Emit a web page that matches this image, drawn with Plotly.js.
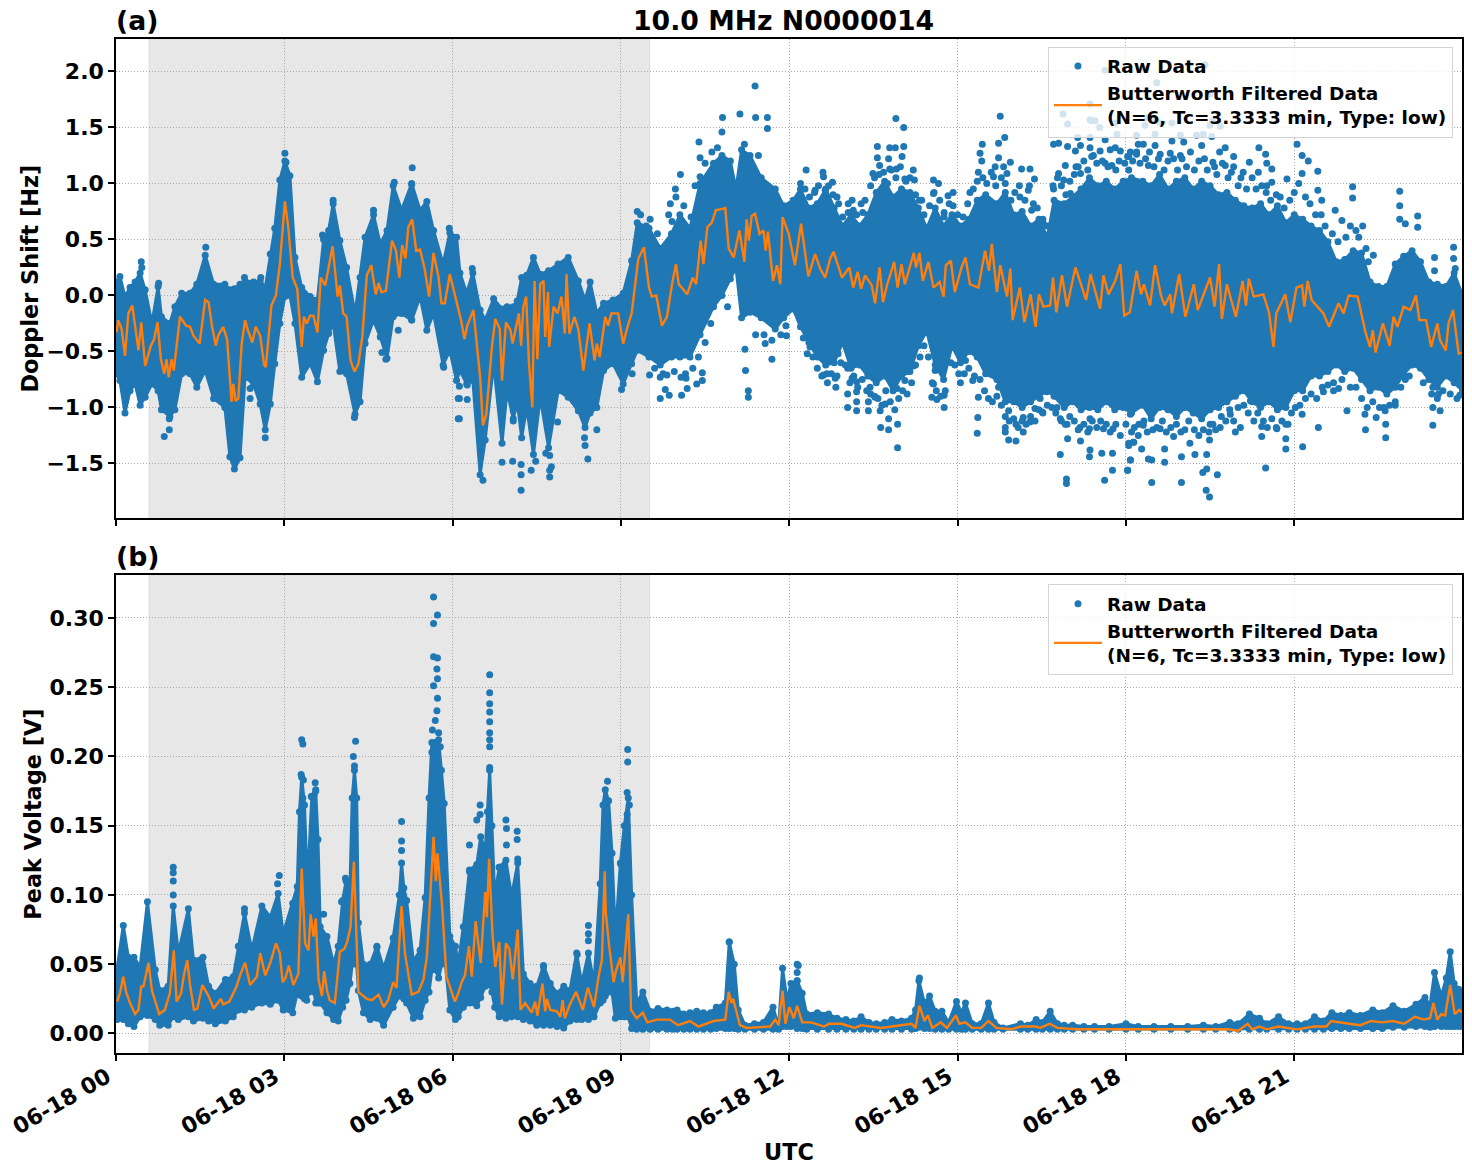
<!DOCTYPE html>
<html><head><meta charset="utf-8">
<script src="https://cdn.plot.ly/plotly-3.0.1.min.js"></script>
<style>html,body{margin:0;padding:0;background:#fff}</style></head>
<body><div id="chart" style="width:1472px;height:1172px"></div>
<script>
const titleText = "10.0 MHz N0000014";
const legendRaw = "Raw Data";
const legendFilt = "Butterworth Filtered Data<br>(N=6, Tc=3.3333 min, Type: low)";
const shadeHours = [0.588, 9.51];
const tickHours = [0,3,6,9,12,15,18,21];

// (a) dense core of the raw doppler points: time [h], upper edge, lower edge (10 per line)
const bandAT = [
0,.07,.16,.25,.34,.43,.52,.64,.75,.81,
.96,1.05,1.17,1.32,1.44,1.59,1.74,1.94,2.03,2.11,
2.21,2.30,2.45,2.57,2.66,2.75,2.83,2.92,3.01,3.10,
3.19,3.31,3.46,3.59,3.7,3.79,3.87,3.99,4.11,4.26,
4.35,4.44,4.59,4.71,4.83,4.94,5.09,5.27,5.42,5.54,
5.66,5.83,5.95,6.07,6.13,6.25,6.36,6.49,6.58,6.73,
6.88,6.97,7.08,7.15,7.23,7.32,7.44,7.56,7.71,7.88,
8.06,8.24,8.36,8.45,8.57,8.69,8.86,9.04,9.19,9.29,
9.5,9.7,9.9,10.05,10.23,10.41,10.65,10.8,10.95,11.05,
11.15,11.3,11.5,11.75,11.9,12.07,12.2,12.35,12.5,12.65,
12.8,12.95,13.1,13.25,13.4,13.55,13.7,13.85,14.0,14.15,
14.3,14.45,14.6,14.75,14.9,15.05,15.2,15.35,15.5,15.7,
15.85,16.0,16.15,16.3,16.45,16.6,16.72,16.9,17.05,17.2,
17.35,17.5,17.65,17.8,17.95,18.1,18.3,18.45,18.6,18.75,
18.9,19.05,19.2,19.35,19.5,19.65,19.8,19.95,20.1,20.25,
20.4,20.55,20.7,20.85,21.0,21.15,21.3,21.45,21.6,21.75,
21.9,22.05,22.2,22.35,22.5,22.65,22.8,22.95,23.1,23.25,
23.4,23.55,23.7,23.85,24];
const bandAHi = [
.12,.17,-.01,.07,.12,.2,.05,-.25,.08,-.19,
-.25,-.10,.02,.02,.1,.36,.10,.1,.05,.06,
.1,.13,.12,.13,.07,.37,.6,1.03,1.2,1.07,
.34,.07,-.01,-.04,.5,.58,.82,.49,.25,-.16,
.16,.52,.72,.46,.58,.98,.76,1.0,.76,.84,
.58,.28,.56,.52,.2,.02,.2,-.13,-.22,-.03,
-.12,-.1,-.10,-.05,.16,.18,.34,.19,.22,.28,
.34,.13,-.04,.12,-.16,-.07,-.04,.02,.31,.65,
.6,.42,.55,.72,.6,1.0,1.18,1.25,1.2,.95,
1.3,1.25,1.05,.95,.8,.85,.95,.78,.82,.95,
.78,.62,.72,.62,.72,.92,1.02,.88,.95,.92,
.78,.6,.78,.62,.72,.62,.68,.85,.9,.82,
.92,.72,.75,.62,.68,.52,.85,.82,.88,.95,
1.05,.98,1.02,.95,1.02,1.05,1.02,.98,1.08,.95,
1.02,1.05,.95,1.02,.98,.9,.92,.85,.8,.78,
.82,.72,.8,.65,.72,.68,.62,.58,.48,.3,
.32,.4,.38,.12,.08,.08,.28,.35,.4,.3,
.12,.1,.08,.2,0];
const bandALo = [
-.7,-.76,-1.05,-.85,-.79,-.98,-.91,-.79,-.85,-1.02,
-1.08,-1.02,-.70,-.70,-.82,-.67,-.92,-1.0,-1.44,-1.55,
-1.45,-.73,-.79,-.97,-1.2,-.97,-.61,-.25,-.01,0,
-.25,-.73,-.61,-.77,-.49,-.34,-.25,-.68,-.70,-1.06,
-.95,-.43,-.22,-.37,-.56,-.19,-.16,-.22,-.01,-.31,
-.16,-.62,-.49,-.76,-.67,-.79,-.76,-1.6,-1.29,-.61,
-1.32,-.85,-1.1,-.95,-1.27,-1.0,-1.42,-.91,-1.36,-.85,
-.91,-1.03,-1.18,-1.05,-1.0,-.67,-.61,-.79,-.61,-.49,
-.55,-.62,-.55,-.55,-.55,-.35,-.1,0,.15,.25,
-.2,-.15,-.2,-.3,-.2,-.12,-.28,-.42,-.55,-.62,
-.6,-.42,-.65,-.62,-.72,-.78,-.72,-.85,-.72,-.68,
-.45,-.32,-.62,-.75,-.45,-.6,-.5,-.55,-.7,-.75,
-.95,-.95,-1.0,-.95,-.9,-.85,-.9,-1.0,-.95,-1.02,
-1.0,-1.02,-.95,-1.02,-1.0,-1.05,-.98,-1.1,-1.0,-1.02,
-1.08,-1.0,-1.05,-1.1,-1.02,-1.0,-.95,-.9,-.85,-.95,
-1.0,-.95,-1.02,-1.0,-.85,-.85,-.72,-.72,-.68,-.62,
-.68,-.65,-.75,-.85,-.82,-.88,-.82,-.7,-.62,-.65,
-.75,-.82,-.72,-.78,-.85];

// (a) points that stand clear of the dense core
const rawAT = [12.30,12.46,12.61,12.77,12.64,12.85,13.05,13.14,13.31,13.49,13.57,13.57,13.61,13.77,13.79,13.89,13.90,14.04,14.04,14.01,13.91,13.79,14.21,14.23,14.06,14.36,14.57,14.57,14.66,14.83,14.92,14.76,15.22,15.44,15.40,15.43,15.37,15.73,15.84,15.76,15.73,15.67,15.82,15.94,15.64,15.88,16.14,16.29,16.37,16.26,16.11,16.32,16.53,16.71,16.80,16.96,16.92,16.80,16.71,16.89,17.01,17.11,17.14,17.19,17.10,17.36,17.36,17.39,17.39,17.19,17.54,17.63,17.63,17.84,17.81,17.9,17.75,18.05,18.05,18.19,18.22,18.19,
17.63,18.55,18.3,19.41,19.5,17.36,16.88,16.96,17.36,17.45,17.53,17.81,18.38,18.52,18.34,18.61,18.82,19.54,19.5,19.68,21.14,
18.31,18.19,18.03,18.52,18.52,18.61,18.40,18.82,18.97,19.03,18.79,18.97,19.26,19.53,19.38,19.35,19.77,19.67,19.55,19.92,19.77,19.92,20.20,20.37,20.49,20.51,20.60,20.36,20.09,20.87,20.60,20.51,21.05,21.14,21.25,21.14,21.42,21.42,21.49,21.73,22.04,22.04,21.85,22.22,22.88,22.88,22.88,23.2,23.2,22.98,22.41,22.32,23.5,23.5,23.84,23.84,23.87,23.66,
12.37,12.61,12.67,12.82,12.83,12.76,12.87,13.04,13.04,13.04,13.12,13.2,13.2,13.2,13.2,13.41,13.41,13.44,13.53,13.62,13.63,13.77,13.77,13.93,13.93,13.71,13.92,14.06,14.12,14.21,14.27,14.54,14.63,14.76,14.76,14.57,14.60,15.02,15.14,15.02,15.27,15.37,15.36,15.35,15.58,15.73,15.85,15.85,15.91,16.04,16.04,15.91,16.17,16.17,16.29,16.38,16.51,16.47,16.59,16.77,16.83,16.83,16.95,16.96,16.94,16.94,17.18,17.19,17.36,17.35,17.36,17.35,17.57,17.76,17.76,17.62,17.6,17.77,17.39,18.03,18.08,18.05,18.14,18.23,18.08,
18.05,18.13,18.28,18.08,18.03,18.40,18.46,18.69,18.69,18.46,18.99,18.99,19.23,19.44,19.37,19.44,19.63,19.43,19.49,19.49,19.50,19.14,18.85,18.61,18.31,19.68,20.04,19.95,19.86,20.22,20.42,20.42,20.49,20.69,20.85,20.85,20.89,21.15,21.14,21.43,21.52,21.70,21.94,21.79,22.26,22.27,22.46,22.62,22.63,22.63,22.80,22.98,23.47,23.47,23.47,23.60,23.57,23.95,
11.39,11.12,11.4,11.61,11.61,10.81,10.8,10.39,10.41,10.06,9.97,9.88,9.91,9.29,9.52,10.32,10.41,9.70,9.79,9.86,10.08,10.18,10.35,10.45,10.45,10.07,10.16,9.51,9.70,9.82,11.27,11.27,11.22,11.21,11.69,11.57,11.69,11.95,11.94,9.01,9.2,
6.54,6.88,7.07,7.22,7.22,7.22,7.40,7.48,7.73,7.73,7.76,7.66,7.73,8.41,8.36,8.35,8.57,7.87,6.12,6.12,6.26,6.26,6.12,7.07,7.08,6.35,7.08,
.86,.95,2.66,.95,5.28,5.27,4.96,4.59,3.68,1.60,.45,.46,.76,2.29,2.58,5.94,5.84,6.10,6.10,6.04,4.81,4.74,5.03,5.27,4.25,2.39,2.39,3.01,3.03,3.87];
const rawAV = [1.12,.94,1.06,1.01,.94,.88,.74,.76,.74,1.09,1.33,1.23,1.16,1.22,1.32,1.32,1.58,1.50,1.33,1.24,1.13,1.13,1.12,1.03,1.04,.85,1.03,.91,1.0,.89,.92,.74,.92,1.35,1.27,1.2,1.1,1.36,1.41,1.60,1.23,1.15,1.15,1.19,1.06,1.09,1.13,1.13,1.04,.94,.88,.76,.64,1.35,1.36,1.33,1.16,1.09,.95,1.03,.91,1.15,1.41,1.34,1.29,1.41,1.32,1.56,1.24,1.09,1.29,1.39,1.18,1.44,1.32,1.29,1.16,1.24,1.12,1.43,1.35,1.26,
2.01,1.90,2.03,2.06,1.80,1.71,1.62,1.53,1.57,1.56,1.5,1.54,1.59,1.57,1.52,1.54,1.54,1.56,1.52,1.51,1.56,
1.35,1.28,1.24,1.44,1.34,1.26,1.16,1.38,1.43,1.37,1.27,1.25,1.43,1.42,1.44,1.34,1.32,1.28,1.19,1.24,1.16,1.15,1.19,1.32,1.26,1.18,1.13,1.10,1.10,1.04,1.01,.98,1.35,1.25,1.2,1.09,1.11,.94,.85,.76,.97,.87,.67,.62,.93,.80,.68,.71,.61,.64,.36,.30,.34,.22,.43,.33,.24,.04,
-.46,-.71,-.70,-.74,-.82,-.57,-.52,-.65,-.88,-1.0,-.74,-.77,-.86,-.95,-1.03,-.95,-1.03,-.82,-.91,-1.03,-1.18,-1.10,-1.2,-1.15,-1.36,-.97,-.83,-.76,-.68,-.63,-.40,-.91,-.93,-.89,-1.0,-.79,-.67,-.70,-.58,-.52,-.76,-.91,-1.09,-1.23,-.70,-.82,-1.18,-1.22,-1.29,-1.30,-1.15,-1.03,-1.09,-1.22,-1.13,-1.01,-1.04,-.92,-.86,-1.0,-1.1,-1.42,-1.15,-1.28,-1.64,-1.68,-1.18,-1.30,-1.10,-1.19,-1.38,-1.44,-1.41,-1.41,-1.56,-1.65,-1.19,-1.19,-.98,-1.56,-1.47,-1.32,-1.31,-1.15,-1.06,
-1.34,-1.31,-1.37,-1.47,-1.56,-1.46,-1.47,-1.37,-1.49,-1.67,-1.44,-1.67,-1.42,-1.42,-1.58,-1.55,-1.60,-1.74,-1.80,-1.29,-1.15,-1.32,-1.26,-1.19,-1.16,-1.18,-1.18,-1.22,-1.06,-.94,-1.17,-1.26,-1.54,-1.19,-1.28,-1.37,-1.15,-1.35,-1.06,-1.18,-.86,-.85,-1.03,-.83,-1.06,-1.2,-1.09,-1.03,-1.15,-1.27,-.98,-.75,-.82,-1.0,-1.16,-1.03,-.88,-.89,
1.87,1.62,1.59,1.59,1.49,1.59,1.46,1.37,1.23,1.08,.95,.82,.66,.75,.68,.98,1.06,-.92,-.84,-.89,-.89,-.83,-.79,-.76,-.69,-.73,-.74,-.71,-.73,-.71,-.85,-.91,-.67,-.48,-.57,-.43,-.40,-.36,-.27,-.84,-.70,
-1.65,-1.49,-1.48,-1.51,-1.60,-1.74,-1.56,-1.48,-1.62,-1.56,-1.53,-1.41,-1.43,-1.46,-1.34,-1.27,-1.2,-1.13,-1.10,-.92,-.93,-.80,-.81,-.84,-1.03,.24,-1.12,
-1.26,-1.2,-1.27,-1.10,1.14,.99,1.01,.76,.54,.43,.30,.25,.11,.16,.16,.60,-.64,-1.10,-.92,-.48,-.57,-.51,-.31,-.22,-1.09,-.92,-.83,1.27,1.19,.85];
// (a) speckled rim just outside the core (20 per line)
const rimAT = [
12.2,12.28,12.36,12.45,12.52,12.6,12.7,12.78,12.88,12.95,13.05,13.12,13.2,13.28,13.35,13.45,13.52,13.6,13.68,13.75,
13.82,13.9,13.98,14.08,14.15,14.25,14.32,14.4,14.5,14.58,14.68,14.76,14.85,14.92,15.0,15.1,15.18,15.28,15.35,15.45,
15.52,15.6,15.68,15.78,15.85,15.95,16.02,16.1,16.2,16.28,16.35,16.42,16.52,16.6,16.7,16.78,16.85,16.93,17.0,17.08,
17.15,17.25,17.32,17.42,17.48,17.58,17.68,17.72,17.82,17.88,17.98,18.08,18.12,18.25,18.35,18.42,18.5,18.58,18.68,18.75,
18.85,18.92,19.0,19.08,19.15,19.22,19.3,19.4,19.45,19.58,19.62,19.72,19.82,19.88,20.0,20.05,20.15,20.25,20.32,20.42,
20.5,20.58,20.68,20.75,20.82,20.92,21.0,21.08,21.2,21.28,21.38,21.48,21.55,21.68,21.78,21.92,22.0,22.1,22.15,22.28,
12.25,12.32,12.42,12.5,12.58,12.68,12.75,12.85,12.92,13.0,13.08,13.15,13.22,13.3,13.38,13.45,13.52,13.58,13.65,13.72,
13.8,13.88,13.95,14.02,14.1,14.18,14.25,14.33,14.4,14.48,14.55,14.62,14.7,14.78,14.88,14.95,15.05,15.12,15.2,15.3,
15.4,15.48,15.55,15.62,15.7,15.78,15.85,15.92,16.0,16.08,16.15,16.22,16.3,16.38,16.45,16.52,16.6,16.68,16.75,16.85,
16.92,17.0,17.08,17.15,17.25,17.32,17.4,17.48,17.55,17.65,17.72,17.82,17.9,18.0,18.1,18.15,18.22,18.32,18.38,18.48,
18.55,18.65,18.72,18.8,18.9,18.98,19.05,19.12,19.22,19.3,19.38,19.48,19.55,19.6,19.7,19.78,19.85,19.92,20.0,20.1,
20.18,20.28,20.35,20.45,20.52,20.6,20.68,20.78,20.85,20.95,21.02,21.1,21.2,21.3,21.4,21.5,21.6,21.7,21.85,22.0,
22.1,22.2,22.3,22.4,22.52,22.6,22.7,22.8,22.9,23.05,23.3,23.45,23.55,23.65,23.78,23.9,9.6,9.75,9.95,10.15,
10.28,10.38,10.5,10.6,10.9,11.4,11.55,11.85,9.35,9.45,9.65,9.85,9.98,10.12,10.25,10.5,10.62,10.72,11.2,11.45];
const rimAV = [
1.0,.95,.88,.92,.98,1.1,.98,.9,.82,.7,.82,.85,.72,.82,.85,.98,1.05,1.08,1.1,1.0,
1.12,1.05,1.15,1.02,1.05,.9,.85,.72,.8,.92,.85,.7,.82,.8,.72,.7,.82,.95,1.02,1.05,
1.0,1.1,.98,1.05,1.0,.85,.92,.98,.85,.98,.82,.78,.68,.62,.98,1.05,.98,.9,1.02,1.08,
1.15,1.2,1.12,1.25,1.18,1.2,1.15,1.3,1.12,1.2,1.18,1.28,1.2,1.18,1.22,1.28,1.15,1.22,1.12,1.2,
1.22,1.12,1.22,1.15,1.28,1.12,1.2,1.22,1.12,1.15,1.08,1.18,1.05,1.1,.98,1.05,.95,1.05,.95,.98,
.92,.85,.9,.88,.78,.85,.92,1.0,.88,.82,.72,.72,.62,.55,.48,.52,.62,.58,.52,.42,
-.38,-.52,-.55,-.65,-.72,-.78,-.7,-.72,-.6,-.62,-.78,-.72,-.82,-.75,-.85,-.88,-.9,-.92,-.98,-.85,
-.95,-1.02,-.92,-.85,-.88,-.78,-.62,-.55,-.45,-.55,-.78,-.85,-.9,-.85,-.6,-.62,-.78,-.7,-.65,-.72,
-.75,-.85,-.92,-.95,-.9,-.98,-1.08,-1.12,-1.1,-1.18,-1.12,-1.15,-1.08,-1.12,-1.02,-1.05,-.98,-1.0,-1.05,-1.12,
-1.15,-1.08,-1.12,-1.2,-1.15,-1.22,-1.12,-1.18,-1.12,-1.15,-1.22,-1.15,-1.25,-1.15,-1.22,-1.18,-1.25,-1.12,-1.22,-1.2,
-1.18,-1.12,-1.22,-1.18,-1.15,-1.22,-1.2,-1.12,-1.2,-1.25,-1.2,-1.22,-1.15,-1.2,-1.08,-1.12,-1.02,-1.12,-1.0,-.98,
-1.05,-1.12,-1.05,-1.12,-1.18,-1.1,-1.18,-1.12,-1.15,-1.05,-1.0,-.98,-.92,-.88,-.92,-.82,-.8,-.78,-.75,-.82,
-.82,-.92,-1.0,-.95,-1.0,-1.0,-.98,-.95,-.82,-.72,-.78,-.88,-.92,-.85,-.88,-.92,-.65,-.7,-.68,-.7,
-.65,-.55,-.42,-.25,-.1,-.35,-.35,-.35,.72,.62,.55,.72,.88,.8,.7,1.18,1.28,1.32,1.35,1.25];

// (a) Butterworth filtered doppler
const filtAT = [.01,.04,.10,.16,.22,.29,.34,.40,.45,.52,.62,.68,.74,.80,.86,.90,.94,.99,1.03,1.14,1.25,1.32,1.38,1.49,1.59,1.65,1.71,1.78,1.82,1.91,1.98,2.06,2.09,2.13,2.18,2.24,2.30,2.35,2.43,2.49,2.57,2.64,2.67,2.73,2.77,2.85,2.92,3.01,3.07,3.15,3.23,3.31,3.35,3.40,3.46,3.52,3.59,3.65,3.73,3.86,3.95,3.99,4.05,4.11,4.18,4.25,4.32,4.39,4.47,4.55,4.63,4.68,4.73,4.81,4.92,4.99,5.05,5.10,5.16,5.21,5.28,5.35,5.42,5.50,5.58,5.66,5.75,5.80,5.86,5.95,6.04,6.15,6.21,6.26,6.37,6.43,6.49,6.54,6.60,6.70,6.76,6.84,6.88,6.95,7.03,7.07,7.18,7.22,7.26,7.31,7.36,7.42,7.46,7.51,7.56,7.62,7.65,7.70,7.72,7.80,7.87,7.94,8.0,8.03,8.08,8.17,8.24,8.33,8.44,8.53,8.57,8.62,8.72,8.77,8.83,8.95,9.04,9.10,9.19,9.31,9.41,9.50,9.55,9.63,9.73,9.82,9.91,9.98,10.03,10.10,10.18,10.28,10.34,10.42,10.47,10.54,10.62,10.69,10.77,10.86,10.92,11.01,11.11,11.20,11.24,11.28,11.33,11.39,11.47,11.54,11.58,11.62,11.71,11.78,11.84,11.88,11.99,12.10,12.21,12.34,12.46,12.55,12.64,12.73,12.79,12.94,13.07,13.14,13.22,13.28,13.35,13.47,13.53,13.61,13.67,13.74,13.87,13.93,14.0,14.06,14.22,14.26,14.32,14.38,14.48,14.57,14.68,14.75,14.79,14.88,14.95,15.07,15.14,15.22,15.37,15.49,15.56,15.61,15.70,15.76,15.88,15.94,15.98,16.11,16.19,16.30,16.39,16.45,16.53,16.65,16.70,16.76,16.86,16.95,17.10,17.21,17.29,17.37,17.47,17.54,17.60,17.69,17.81,17.90,17.97,18.07,18.19,18.27,18.32,18.43,18.52,18.62,18.69,18.79,18.82,18.95,19.06,19.21,19.28,19.43,19.50,19.58,19.66,19.71,19.80,19.96,20.08,20.14,20.19,20.28,20.45,20.55,20.63,20.68,20.84,20.93,21.04,21.14,21.18,21.24,21.31,21.52,21.62,21.79,21.88,21.97,22.13,22.27,22.35,22.40,22.45,22.58,22.70,22.77,22.84,22.95,23.07,23.17,23.23,23.35,23.44,23.55,23.60,23.70,23.75,23.83,23.93,23.99];
const filtAV = [-.33,-.22,-.30,-.54,-.16,-.09,-.27,-.49,-.24,-.63,-.45,-.39,-.24,-.57,-.70,-.57,-.73,-.57,-.67,-.19,-.27,-.28,-.36,-.43,-.04,-.06,-.27,-.45,-.36,-.28,-.39,-.95,-.79,-.94,-.92,-.43,-.22,-.31,-.42,-.28,-.36,-.62,-.64,-.34,-.09,0,.28,.84,.61,.16,.06,-.46,-.19,-.25,-.18,-.18,-.33,.16,.09,.44,-.01,.09,-.16,-.19,-.58,-.68,-.61,-.37,.18,.27,.01,.11,.03,.04,.49,.40,.16,.45,.33,.61,.68,.40,.41,.24,-.01,.38,.16,-.07,-.07,.19,.01,-.22,-.39,-.27,-.13,-.43,-.73,-1.16,-1.06,-.46,-.21,-.30,-.76,-.24,-.31,-.43,-.16,-.45,-.10,-.01,-.60,-1.0,.13,-.57,.10,.13,-.37,.03,-.46,-.10,-.16,-.01,-.34,.19,-.34,-.19,-.30,-.67,-.25,-.58,-.43,-.55,-.19,-.27,-.16,-.16,-.43,-.31,-.16,.33,.43,.07,-.01,0,-.27,-.19,.10,.28,.10,.06,.01,.16,.10,.49,.28,.61,.65,.76,.77,.78,.42,.34,.58,.30,.68,.49,.71,.73,.55,.58,.40,.57,.13,.27,.10,.70,.55,.27,.64,.17,.37,.24,.16,.33,.39,.16,.25,.07,.21,.06,.18,.09,-.07,.25,-.06,.09,.30,.07,.28,.10,.38,.25,.38,.13,.30,.07,.12,-.01,.27,.31,.03,.25,.34,.10,.07,.40,.22,.46,.03,.27,-.01,.24,-.22,.07,-.24,.01,-.28,.01,-.10,-.09,.16,-.15,.18,-.10,.25,.07,-.04,.19,.01,-.12,.18,.01,.13,.28,-.18,-.15,.22,.01,.10,-.09,.27,.01,-.09,.01,-.16,.19,-.19,.10,-.13,.07,.16,-.10,.28,-.21,.10,-.19,.13,-.09,.15,-.01,.01,-.15,-.46,-.16,.01,-.24,.07,.09,-.10,.13,-.04,-.16,-.28,-.07,-.16,0,-.01,-.33,-.46,-.31,-.51,-.25,-.45,-.19,-.28,-.10,-.13,0,-.22,-.22,-.46,-.25,-.40,-.49,-.25,-.13,-.52,-.51];

// (b) dense core of the raw voltage points; same line layout in the three arrays
const bandBT = [
0,.02,.13,.22,.32,.43,.56,.70,.78,.93,
1.02,1.11,1.29,1.38,1.55,1.65,1.77,1.95,2.09,2.18,
2.29,2.42,2.60,2.75,2.89,2.98,3.15,3.23,3.27,3.31,3.36,3.40,
3.44,3.49,3.53,3.56,3.60,3.64,3.76,3.88,3.96,4.04,4.10,4.17,4.21,4.25,
4.29,4.32,4.41,4.53,4.65,4.77,4.94,5.05,5.09,5.13,5.18,5.30,5.42,
5.51,5.58,5.63,5.69,5.75,5.80,5.85,5.95,6.05,6.10,6.19,6.30,6.43,
6.50,6.58,6.62,6.66,6.70,6.75,6.83,6.95,7.05,7.16,7.26,7.38,
7.50,7.62,7.74,7.86,7.98,8.09,8.21,8.30,8.42,8.52,
8.63,8.68,8.72,8.78,8.84,8.90,8.99,9.06,9.13,9.19,9.28,9.39,
9.52,9.66,9.82,9.92,10.0,10.12,10.23,10.35,10.47,10.6,10.7,10.86,10.93,11.02,11.09,
11.21,11.38,11.54,11.71,11.81,11.88,11.96,12.03,12.14,12.23,12.31,
12.5,12.7,12.85,13.01,13.15,13.28,13.42,13.55,13.7,13.83,14.0,14.18,14.25,14.31,14.41,14.5,
14.6,14.72,14.84,14.98,15.07,15.14,15.26,15.42,15.55,15.65,
15.81,16.12,16.25,16.4,16.51,16.65,16.78,16.9,17.05,17.25,17.44,17.7,18,18.22,
18.5,18.8,19.1,19.38,19.6,19.85,20.0,20.2,20.38,20.51,20.72,20.9,21.05,21.2,
21.36,21.52,21.67,21.83,21.98,22.18,22.4,22.57,22.76,22.96,
23.17,23.33,23.42,23.5,23.62,23.71,23.78,23.85,23.93,24];
const bandBHi = [
.044,.047,.078,.055,.055,.048,.095,.046,.031,.034,
.092,.058,.09,.053,.055,.034,.029,.039,.041,.063,
.087,.06,.092,.084,.101,.072,.094,.106,.16,.185,.165,.118,
.13,.171,.172,.175,.14,.077,.07,.05,.063,.096,.11,.106,.17,.19,
.17,.08,.05,.05,.063,.047,.069,.1,.123,.105,.096,.052,.06,
.098,.17,.21,.21,.212,.19,.166,.07,.063,.05,.077,.118,.122,
.142,.132,.16,.19,.15,.099,.12,.125,.099,.123,.043,.036,
.034,.049,.036,.029,.034,.031,.058,.036,.058,.036,
.108,.165,.176,.168,.13,.07,.123,.15,.17,.10,.022,.03,
.016,.018,.017,.016,.017,.014,.015,.016,.015,.015,.019,.022,.066,.05,.017,
.006,.007,.008,.019,.005,.047,.024,.036,.038,.029,.014,
.015,.014,.011,.010,.009,.012,.008,.007,.008,.01,.009,.011,.017,.038,.022,.027,
.016,.016,.008,.023,.015,.022,.007,.007,.022,.008,
.004,.007,.006,.01,.008,.016,.007,.006,.006,.005,.005,.005,.007,.005,
.005,.005,.005,.006,.005,.008,.007,.014,.011,.007,.012,.007,.007,.007,
.012,.009,.015,.013,.015,.013,.017,.015,.02,.016,
.021,.026,.02,.044,.027,.04,.059,.036,.032,.029];
const bandBLo = [
.011,.010,.010,.007,.005,.012,.013,.010,.006,.006,
.012,.010,.012,.009,.011,.009,.007,.009,.012,.017,
.017,.019,.022,.021,.024,.017,.015,.029,.028,.027,.025,.024,
.03,.036,.03,.022,.022,.022,.015,.010,.009,.019,.024,.036,.05,.058,
.05,.031,.015,.010,.011,.006,.019,.027,.027,.025,.022,.011,.012,
.024,.03,.046,.046,.04,.05,.058,.017,.010,.012,.019,.022,.02,
.026,.034,.035,.036,.03,.019,.012,.011,.012,.012,.010,.009,
.006,.006,.006,.005,.004,.009,.010,.010,.010,.012,
.022,.024,.027,.03,.03,.011,.012,.012,.012,.0035,.003,.003,
.003,.003,.003,.003,.003,.003,.003,.003,.003,.003,.0035,.0035,.0035,.0035,.003,
.003,.003,.003,.003,.003,.005,.005,.005,.0035,.0035,.003,
.003,.003,.003,.003,.003,.003,.003,.003,.003,.003,.003,.003,.0035,.0045,.0035,.0035,
.003,.003,.003,.003,.003,.003,.003,.003,.003,.003,
.003,.003,.003,.003,.003,.003,.003,.003,.003,.003,.003,.003,.003,.003,
.003,.003,.003,.003,.003,.003,.003,.003,.003,.003,.003,.003,.003,.003,
.003,.003,.0035,.0035,.0035,.0035,.0035,.0035,.0045,.0045,
.005,.005,.0045,.005,.005,.005,.005,.005,.005,.005];

// (b) points that stand clear of the dense core
const rawBT = [1.02,1.02,1.02,1.02,2.91,2.88,3.31,3.33,3.30,3.34,3.55,3.56,3.48,3.33,4.27,4.23,4.25,5.09,5.09,5.09,4.09,4.02,5.66,5.73,5.66,5.66,5.73,5.72,5.73,5.66,5.73,5.72,5.69,5.64,5.75,5.78,5.63,4.65,3.70,2.29,
6.66,6.66,6.66,6.66,6.66,6.66,6.66,6.66,6.66,6.49,6.49,6.43,6.30,6.30,6.83,6.95,6.96,6.96,7.15,7.15,7.16,8.42,8.42,8.42,8.22,7.62,8.76,9.12,9.12,9.11,9.15,9.11,9.11,9.0,10.93,12.16,12.14,12.14,12.14,14.32];
const rawBV = [.12,.116,.11,.10,.114,.108,.212,.209,.187,.183,.181,.176,.171,.17,.211,.20,.193,.153,.139,.132,.112,.095,.315,.302,.296,.272,.271,.263,.256,.251,.242,.233,.226,.219,.217,.207,.203,.062,.086,.09,
.259,.246,.238,.232,.225,.217,.212,.207,.192,.165,.158,.154,.136,.117,.12,.154,.148,.136,.146,.14,.126,.078,.072,.067,.057,.048,.182,.205,.196,.174,.165,.158,.15,.122,.066,.049,.05,.044,.038,.04];

// (b) Butterworth filtered voltage
const filtBT = [.02,.07,.13,.18,.25,.34,.40,.45,.49,.58,.64,.77,.87,.96,1.03,1.08,1.16,1.21,1.27,1.32,1.39,1.45,1.54,1.65,1.74,1.87,1.91,2.02,2.15,2.21,2.30,2.39,2.51,2.57,2.66,2.75,2.85,2.92,2.97,3.02,3.08,3.16,3.25,3.31,3.37,3.43,3.47,3.52,3.56,3.61,3.67,3.71,3.76,3.81,3.90,3.99,4.07,4.12,4.18,4.24,4.32,4.47,4.56,4.68,4.77,4.85,4.94,5.0,5.09,5.15,5.27,5.39,5.48,5.54,5.66,5.70,5.73,5.81,5.89,5.98,6.04,6.10,6.16,6.22,6.29,6.34,6.41,6.50,6.58,6.61,6.65,6.71,6.76,6.83,6.88,6.95,7.01,7.07,7.16,7.21,7.29,7.41,7.47,7.51,7.60,7.65,7.68,7.74,7.86,7.92,7.96,8.0,8.09,8.2,8.32,8.41,8.52,8.60,8.66,8.71,8.73,8.79,8.87,8.91,8.99,9.03,9.13,9.18,9.28,9.39,9.47,9.64,9.87,10.02,10.23,10.38,10.65,10.86,10.92,10.97,11.0,11.12,11.24,11.66,11.75,11.81,11.88,11.93,12.0,12.08,12.14,12.23,12.39,12.62,12.71,12.93,13.17,13.28,13.63,13.83,14.18,14.25,14.32,14.41,14.47,14.55,14.70,14.81,14.97,15.03,15.14,15.26,15.42,15.55,15.69,15.96,16.12,16.39,16.47,16.64,16.78,17.13,18.0,19.0,19.81,20.0,20.17,20.25,20.38,20.51,20.72,21.05,21.36,21.57,21.66,21.98,22.18,22.37,22.57,22.76,22.96,23.15,23.31,23.42,23.48,23.55,23.62,23.69,23.78,23.86,23.94,24];
const filtBV = [.023,.029,.041,.03,.022,.014,.017,.034,.034,.051,.031,.014,.017,.029,.06,.023,.029,.042,.053,.035,.017,.018,.035,.027,.018,.025,.021,.023,.034,.042,.051,.035,.041,.058,.042,.051,.065,.058,.037,.04,.049,.035,.043,.119,.065,.06,.086,.07,.083,.039,.027,.045,.031,.024,.022,.059,.061,.066,.077,.124,.03,.025,.024,.028,.019,.024,.037,.033,.092,.058,.028,.03,.039,.055,.142,.11,.13,.093,.041,.03,.023,.029,.037,.042,.063,.041,.081,.051,.102,.084,.126,.072,.048,.066,.021,.065,.061,.039,.075,.017,.022,.015,.023,.013,.036,.016,.025,.017,.016,.012,.024,.011,.021,.03,.017,.033,.019,.041,.053,.117,.087,.063,.037,.045,.055,.037,.086,.017,.011,.015,.008,.01,.01,.006,.009,.005,.009,.01,.03,.022,.025,.006,.004,.005,.01,.006,.031,.007,.019,.011,.02,.008,.008,.005,.007,.007,.004,.006,.004,.005,.007,.004,.02,.009,.013,.004,.008,.004,.013,.007,.008,.004,.004,.009,.004,.003,.005,.005,.004,.007,.004,.003,.003,.003,.003,.002,.007,.003,.005,.003,.005,.003,.005,.005,.009,.007,.006,.009,.008,.009,.007,.012,.01,.011,.022,.01,.014,.013,.035,.014,.017,.015];

const baseMs = Date.UTC(2023,5,18);
const toDate = hs => hs.map(h => baseMs + h*3600000);
const BLUE = "#1f77b4", ORANGE = "#ff7f0e";
const FAMILY = "DejaVu Sans";
const DOT = 7;

function panel(xa, ya, legendId, bT, bHi, bLo, rT, rV, fT, fV) {
  const edge = {color:BLUE, size:DOT};
  return [
    {type:"scatter", mode:"lines+markers", x:toDate(bT), y:bLo, xaxis:xa, yaxis:ya, showlegend:false, hoverinfo:"skip",
     line:{color:BLUE, width:3}, marker:edge},
    {type:"scatter", mode:"lines+markers", x:toDate(bT), y:bHi, xaxis:xa, yaxis:ya, showlegend:false, hoverinfo:"skip",
     fill:"tonexty", fillcolor:BLUE, line:{color:BLUE, width:3}, marker:edge},
    {type:"scatter", mode:"markers", x:toDate(rT), y:rV, xaxis:xa, yaxis:ya, name:legendRaw, legend:legendId,
     marker:{color:BLUE, size:DOT}, legendrank:1},
    {type:"scatter", mode:"lines", x:toDate(fT), y:fV, xaxis:xa, yaxis:ya, name:legendFilt, legend:legendId,
     line:{color:ORANGE, width:2.4}, legendrank:2}
  ];
}
const data = [
  ...panel("x","y","legend", bandAT, bandAHi, bandALo, rawAT.concat(rimAT), rawAV.concat(rimAV), filtAT, filtAV),
  ...panel("x2","y2","legend2", bandBT, bandBHi, bandBLo, rawBT, rawBV, filtBT, filtBV)
];

const tickFont = {family:FAMILY, size:22, color:"#000", weight:700};
const labelFont = {family:FAMILY, size:22.4, color:"#000", weight:700};
const GRID = {showgrid:true, gridcolor:"#a8a8a8", griddash:"1px,2px", gridwidth:1, zeroline:false};
const xCommon = {
  type:"date", range:[baseMs, baseMs+23.99*3600000], tickvals:toDate(tickHours), tickformat:"%m-%d %H",
  showline:true, mirror:true, linecolor:"#000", linewidth:1.5, ticks:"outside", ticklen:6, tickwidth:1.5, tickcolor:"#000",
  ...GRID, tickfont:tickFont
};
const yCommon = {
  showline:true, mirror:true, linecolor:"#000", linewidth:1.5, ticks:"outside", ticklen:6, tickwidth:1.5, tickcolor:"#000",
  ...GRID, tickfont:tickFont
};
const legendCommon = {
  xanchor:"right", yanchor:"top", x:.9933, bgcolor:"rgba(255,255,255,0.8)", bordercolor:"#d4d4d4", borderwidth:1,
  font:{family:FAMILY, size:18.5, color:"#000", weight:700}, itemwidth:48, traceorder:"normal"
};
const shade = (xr, yr) => ({type:"rect", layer:"below", xref:xr, yref:yr+" domain",
  x0:baseMs+shadeHours[0]*3600000, x1:baseMs+shadeHours[1]*3600000, y0:0, y1:1,
  fillcolor:"#e7e7e7", line:{width:1, color:"#dedede"}});

const layout = {
  width:1472, height:1172, paper_bgcolor:"#fff", plot_bgcolor:"rgba(0,0,0,0)",
  margin:{l:116, r:10, t:38.5, b:119}, showlegend:true,
  xaxis:{...xCommon, domain:[0,1], anchor:"y", showticklabels:false},
  yaxis:{...yCommon, domain:[.5273,1], anchor:"x", range:[-1.99,2.29], tickvals:[-1.5,-1,-.5,0,.5,1,1.5,2],
    ticktext:["\u22121.5","\u22121.0","\u22120.5","0.0","0.5","1.0","1.5","2.0"],
    title:{text:"Doppler Shift [Hz]", font:labelFont, standoff:2}},
  xaxis2:{...xCommon, domain:[0,1], anchor:"y2", tickangle:-30, ticklabelshift:-9, ticklabelstandoff:-5,
    title:{text:"UTC", font:labelFont, standoff:2}},
  yaxis2:{...yCommon, domain:[0,.4712], anchor:"x2", range:[-.0141,.3308], tickvals:[0,.05,.1,.15,.2,.25,.3],
    ticktext:["0.00","0.05","0.10","0.15","0.20","0.25","0.30"],
    title:{text:"Peak Voltage [V]", font:labelFont, standoff:2}},
  legend:{...legendCommon, y:.9926},
  legend2:{...legendCommon, y:.4623},
  shapes:[shade("x","y"), shade("x2","y2")],
  annotations:[
    {xref:"paper", yref:"paper", x:.4975, y:1, xanchor:"center", yanchor:"bottom", yshift:1, xshift:-2, showarrow:false, text:titleText,
     font:{family:FAMILY, size:26.7, color:"#000", weight:700}},
    {xref:"paper", yref:"paper", x:0, y:1, xanchor:"left", yanchor:"bottom", yshift:1, xshift:-2, showarrow:false, text:"(a)",
     font:{family:FAMILY, size:26.7, color:"#000", weight:700}},
    {xref:"paper", yref:"paper", x:0, y:.4712, xanchor:"left", yanchor:"bottom", yshift:1, xshift:-2, showarrow:false, text:"(b)",
     font:{family:FAMILY, size:26.7, color:"#000", weight:700}}
  ]
};
Plotly.newPlot("chart", data, layout, {displayModeBar:false, responsive:false});
</script></body></html>
